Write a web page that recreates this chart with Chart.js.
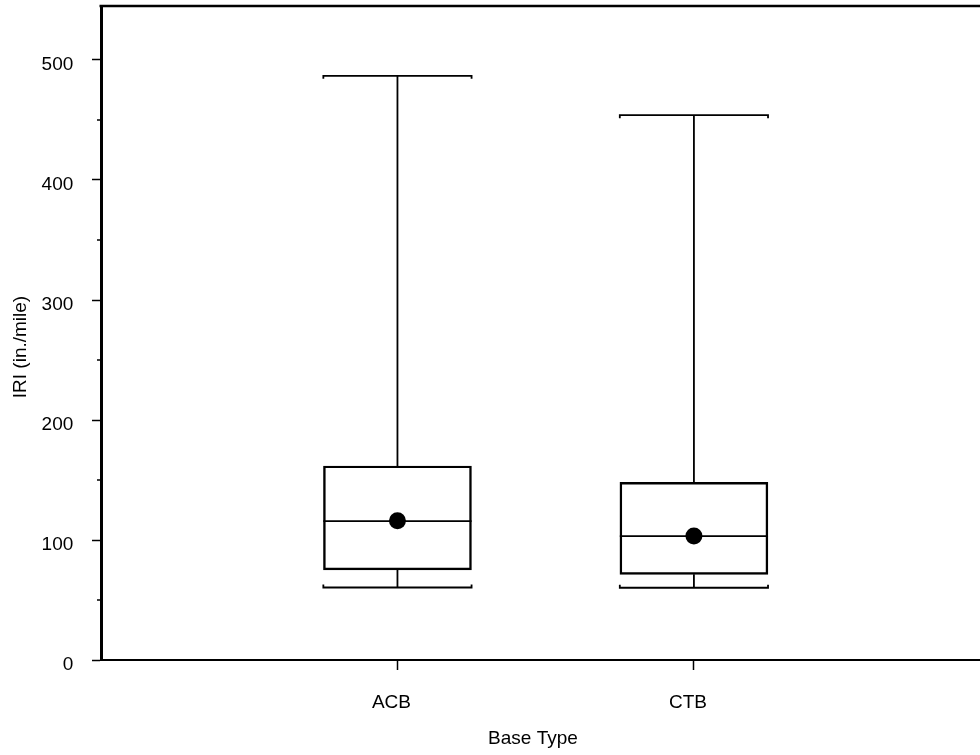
<!DOCTYPE html>
<html>
<head>
<meta charset="utf-8">
<script src="https://cdn.jsdelivr.net/npm/chart.js@4"></script>
<style>
	html, body { margin: 0; padding: 0; background: #fff; overflow: hidden; }
</style>
</head>
<body>
<canvas id="chart" width="980" height="755"></canvas>
<script>
'use strict';

// values
const categories = ['ACB', 'CTB'];
const positions = [1, 2];
const whiskerLow = [60.4, 60.2];
const q1 = [75, 71.4];
const median = [115.8, 103.3];
const q3 = [161.7, 148];
const whiskerHigh = [486.8, 454];
const means = [116, 103.3];
const yTicks = [0, 50, 100, 150, 200, 250, 300, 350, 400, 450, 500];

const xTitle = 'Base Type';
const yTitle = 'IRI (in./mile)';

const boxHalf = 0.25;
const fontFamily = "'Liberation Sans', Arial, sans-serif";
const font = { family: fontFamily, size: 19 };

/**
 * Draws whiskers, caps, medians, minor ticks and the top frame line
 */
const boxPlugin = {
	id: 'boxPlugin',
	beforeDatasetsDraw(chart) {
		const ctx = chart.ctx;
		const x = chart.scales.x;
		const y = chart.scales.y;
		const area = chart.chartArea;

		ctx.save();
		ctx.strokeStyle = '#000';
		ctx.lineWidth = 1.8;
		ctx.lineCap = 'butt';

		for (let i = 0; i < positions.length; i++) {
			const xc = x.getPixelForValue(positions[i]);
			const xl = x.getPixelForValue(positions[i] - boxHalf);
			const xr = x.getPixelForValue(positions[i] + boxHalf);
			const yHigh = y.getPixelForValue(whiskerHigh[i]);
			const yLow = y.getPixelForValue(whiskerLow[i]);
			const yQ1 = y.getPixelForValue(q1[i]);
			const yQ3 = y.getPixelForValue(q3[i]);
			const yMed = y.getPixelForValue(median[i]);

			ctx.beginPath();
			// whiskers
			ctx.moveTo(xc, yQ3);
			ctx.lineTo(xc, yHigh);
			ctx.moveTo(xc, yQ1);
			ctx.lineTo(xc, yLow);
			// caps with small end ticks
			ctx.moveTo(xl, yHigh + 3);
			ctx.lineTo(xl, yHigh);
			ctx.lineTo(xr, yHigh);
			ctx.lineTo(xr, yHigh + 3);
			ctx.moveTo(xl, yLow - 3);
			ctx.lineTo(xl, yLow);
			ctx.lineTo(xr, yLow);
			ctx.lineTo(xr, yLow - 3);
			// median
			ctx.moveTo(xl, yMed);
			ctx.lineTo(xr, yMed);
			ctx.stroke();
		}

		// minor ticks on the y axis
		ctx.lineWidth = 1.5;
		ctx.beginPath();
		for (const v of yTicks) {
			if (v % 100 === 0) continue;
			const py = y.getPixelForValue(v);
			ctx.moveTo(area.left - 4, py);
			ctx.lineTo(area.left, py);
		}
		ctx.stroke();

		// top frame line
		ctx.lineWidth = 2.7;
		ctx.beginPath();
		ctx.moveTo(area.left - 1.5, area.top);
		ctx.lineTo(chart.width, area.top);
		ctx.stroke();
		ctx.restore();
	},
	afterDraw(chart) {
		// axis titles, placed where the reference has them
		const ctx = chart.ctx;
		ctx.save();
		ctx.fillStyle = '#000';
		ctx.font = font.size + 'px ' + fontFamily;
		ctx.textAlign = 'center';
		ctx.textBaseline = 'middle';
		ctx.fillText(xTitle, 533, 739);
		ctx.translate(21, 347);
		ctx.rotate(-Math.PI / 2);
		ctx.fillText(yTitle, 0, 0);
		ctx.restore();
	}
};

new Chart(document.getElementById('chart'), {
	type: 'bar',
	data: {
		datasets: [{
			type: 'bar',
			data: positions.map((p, i) => ({ x: p, y: [q1[i], q3[i]] })),
			backgroundColor: 'rgba(0,0,0,0)',
			borderColor: '#000',
			borderWidth: 1.8,
			borderSkipped: false,
			barThickness: 148
		}, {
			type: 'scatter',
			data: positions.map((p, i) => ({ x: p, y: means[i] })),
			pointRadius: 8.5,
			pointBackgroundColor: '#000',
			pointBorderColor: '#000',
			pointBorderWidth: 0
		}]
	},
	options: {
		responsive: false,
		animation: false,
		layout: { autoPadding: false, padding: { top: 6, left: 0, right: 0, bottom: 0 } },
		plugins: {
			legend: { display: false },
			tooltip: { enabled: false }
		},
		scales: {
			x: {
				type: 'linear',
				min: 0,
				max: 2.965,
				offset: false,
				afterFit: function (scale) {
					scale.height = 95;
					scale.paddingLeft = 0;
					scale.paddingRight = 0;
				},
				afterBuildTicks: function (scale) {
					scale.ticks = positions.map(v => ({ value: v }));
				},
				ticks: {
					color: '#000',
					font: font,
					padding: 21,
					labelOffset: -6,
					maxRotation: 0,
					callback: function (value) {
						const idx = positions.indexOf(value);
						return idx >= 0 ? categories[idx] : '';
					}
				},
				grid: {
					offset: false,
					drawOnChartArea: false,
					tickLength: 10,
					tickColor: '#000',
					tickWidth: 1.5
				},
				border: { display: true, color: '#000', width: 2 }
			},
			y: {
				min: 0,
				max: 545,
				afterFit: function (scale) {
					scale.width = 101;
					scale.paddingTop = 0;
					scale.paddingBottom = 0;
				},
				afterBuildTicks: function (scale) {
					scale.ticks = yTicks.map(v => ({ value: v }));
				},
				ticks: {
					color: '#000',
					font: font,
					padding: 18.7,
					labelOffset: 5,
					callback: function (value) {
						return value % 100 === 0 ? value : '';
					}
				},
				grid: {
					drawOnChartArea: false,
					tickLength: 9,
					tickWidth: 1.5,
					tickColor: function (ctx) {
						return ctx.tick && ctx.tick.value % 100 === 0 ? '#000' : 'rgba(0,0,0,0)';
					}
				},
				border: { display: true, color: '#000', width: 3 }
			}
		}
	},
	plugins: [boxPlugin]
});
</script>
</body>
</html>
